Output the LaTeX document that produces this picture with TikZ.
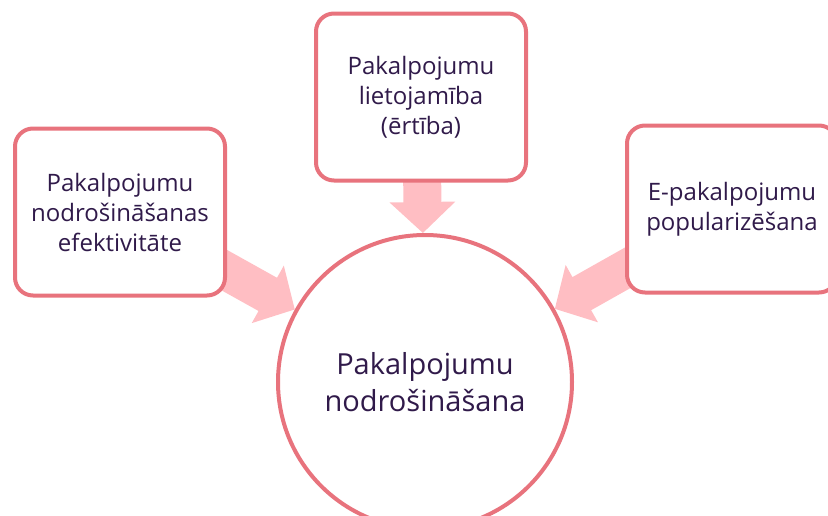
\documentclass[tikz,border=0pt]{standalone}
\usepackage{fontspec}
\setmainfont{Open Sans}
\usetikzlibrary{arrows.meta, backgrounds}
\definecolor{rim}{RGB}{232,115,125}
\definecolor{flow}{RGB}{255,190,195}
\definecolor{ink}{RGB}{48,26,74}

\begin{document}
\begin{tikzpicture}[x=1pt, y=-1pt,
        box/.style={draw=rim, line width=4pt, fill=white, rounded corners=18pt,
            minimum width=210pt, minimum height=167pt, align=center, text=ink,
            font=\fontsize{24}{30}\selectfont},
        hub/.style={circle, draw=rim, line width=4pt, fill=white, minimum size=294pt,
            align=center, text=ink, font=\fontsize{29}{37}\selectfont},
        feed/.style={draw=flow, line width=38pt, -{Triangle[width=64pt, length=31pt]}}]
            \useasboundingbox (0, 0) rectangle (828, 515);
            \clip (0, 0) rectangle (828, 515);

            \node[hub] (svc) at (425, 382) {Pakalpojumu\\nodrošināšana};
            \node[box] (eff) at (120, 212) {Pakalpojumu\\nodrošināšanas\\efektivitāte};
            \node[box] (use) at (421, 97) {Pakalpojumu\\lietojamība\\(ērtība)};
            \node[box] (pop) at (732, 209) {E-pakalpojumu\\popularizēšana};

            \begin{scope}[on background layer]
                \draw[feed] (eff.center) -- (svc);
                \draw[feed] (use.center) -- (svc);
                \draw[feed] (pop.center) -- (svc);
            \end{scope}
        \end{tikzpicture}
\end{document}
